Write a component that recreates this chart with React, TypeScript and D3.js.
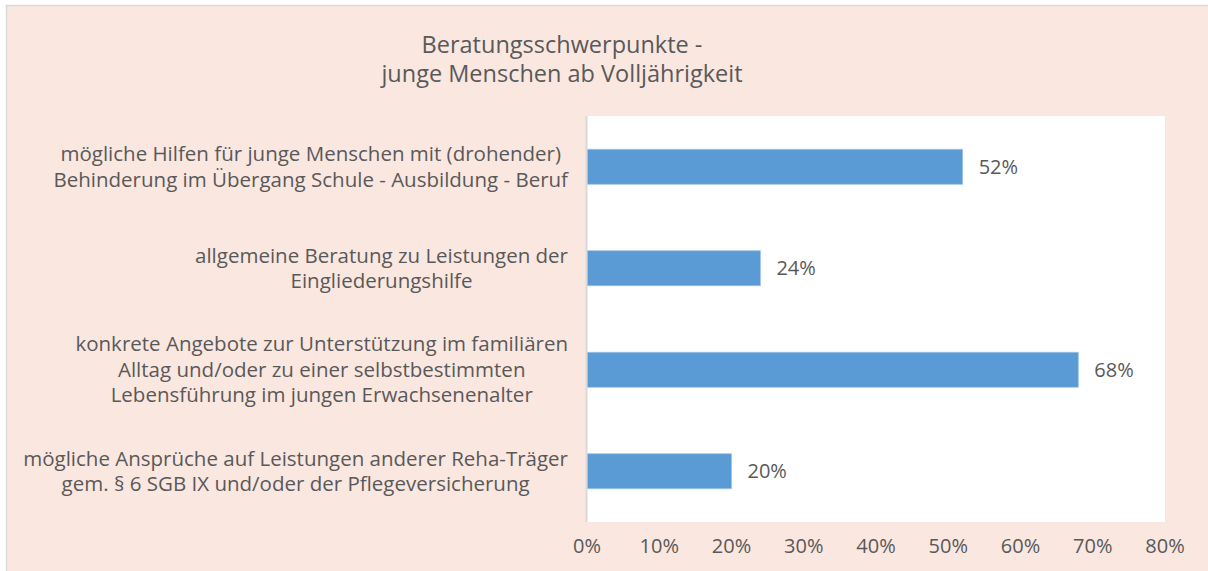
import React from "react";
import * as d3 from "d3";

const categories: string[][] = [
  ["mögliche Hilfen für junge Menschen mit (drohender)", "Behinderung im Übergang Schule - Ausbildung - Beruf"],
  ["allgemeine Beratung zu Leistungen der", "Eingliederungshilfe"],
  ["konkrete Angebote zur Unterstützung im familiären", "Alltag und/oder zu einer selbstbestimmten", "Lebensführung im jungen Erwachsenenalter"],
  ["mögliche Ansprüche auf Leistungen anderer Reha-Träger", "gem. § 6 SGB IX und/oder der Pflegeversicherung"],
];
const values: number[] = [0.52, 0.24, 0.68, 0.2];
const ticks: number[] = [0, 0.1, 0.2, 0.3, 0.4, 0.5, 0.6, 0.7, 0.8];
const titleLines: string[] = ["Beratungsschwerpunkte -", "junge Menschen ab Volljährigkeit"];

const W = 1208;
const H = 571;
const plot = { left: 587, right: 1165, top: 116, bottom: 522 };
const fontFamily = "'Open Sans', sans-serif";
const textColor = "#595959";
const labelSize = 20.5;
const labelRight = 568;

let ctx: CanvasRenderingContext2D | null = null;
function measure(t: string, size: number): number {
  if (!ctx && typeof document !== "undefined") {
    ctx = document.createElement("canvas").getContext("2d");
  }
  if (!ctx) return t.length * size * 0.55;
  ctx.font = `${size}px ${fontFamily}`;
  return ctx.measureText(t).width;
}

export default function App() {
  const x = d3.scaleLinear().domain([0, 0.8]).range([plot.left, plot.right]);
  const y = d3
    .scaleBand<number>()
    .domain(d3.range(categories.length))
    .range([plot.top, plot.bottom])
    .paddingInner(0.655)
    .paddingOuter(0.3275);
  const fmt = d3.format(".0%");
  const lineH = 25.5;

  return (
    <svg
      width={W}
      height={H}
      style={{ position: "absolute", left: 0, top: 0, display: "block" }}
      fontFamily={fontFamily}
    >
      <rect x={6.5} y={5.5} width={W + 20} height={H + 20} fill="#FAE7E0" stroke="#D9D9D9" strokeWidth={1.5} />
      {titleLines.map((t, i) => (
        <text key={i} x={562} y={53 + i * 29} textAnchor="middle" fontSize={23.5} fill={textColor}>
          {t}
        </text>
      ))}
      <rect x={plot.left} y={plot.top} width={plot.right - plot.left} height={plot.bottom - plot.top} fill="#FFFFFF" />
      {values.map((v, i) => (
        <rect
          key={i}
          x={x(0)}
          y={y(i)!}
          width={x(v) - x(0)}
          height={y.bandwidth()}
          fill="#5B9BD5"
          stroke="#9DC3E6"
          strokeWidth={0.75}
        />
      ))}
      <line x1={plot.left - 0.5} x2={plot.left - 0.5} y1={plot.top} y2={plot.bottom} stroke="#D9D9D9" strokeWidth={2} />
      {values.map((v, i) => (
        <text
          key={i}
          x={x(v) + 16}
          y={y(i)! + y.bandwidth() / 2}
          dy="0.35em"
          fontSize={20}
          fill={textColor}
        >
          {fmt(v)}
        </text>
      ))}
      {categories.map((lines, i) => {
        const cy = y(i)! + y.bandwidth() / 2;
        const start = cy - ((lines.length - 1) * lineH) / 2;
        const maxW = d3.max(lines, (l) => measure(l, labelSize)) || 0;
        const cx = labelRight - maxW / 2;
        return lines.map((l, j) => (
          <text
            key={`${i}-${j}`}
            x={cx}
            y={start + j * lineH}
            dy="0.35em"
            textAnchor="middle"
            fontSize={labelSize}
            fill={textColor}
          >
            {l}
          </text>
        ));
      })}
      {ticks.map((t, i) => (
        <text key={i} x={x(t)} y={553} textAnchor="middle" fontSize={20} fill={textColor}>
          {fmt(t)}
        </text>
      ))}
    </svg>
  );
}
